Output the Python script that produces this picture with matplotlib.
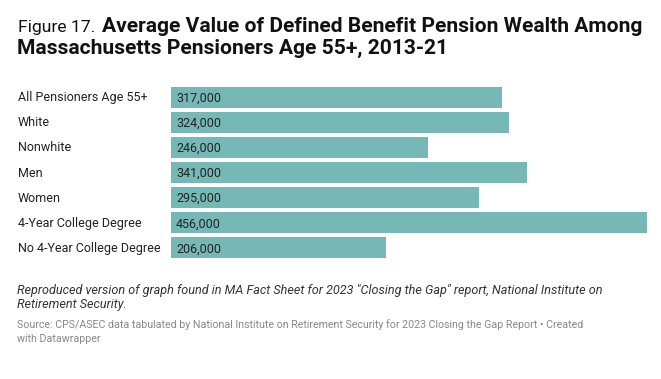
import matplotlib
matplotlib.use("Agg")
import matplotlib.pyplot as plt

categories = ["All Pensioners Age 55+", "White", "Nonwhite", "Men", "Women",
              "4-Year College Degree", "No 4-Year College Degree"]
values = [317000, 324000, 246000, 341000, 295000, 456000, 206000]

W, H = 661, 379
DPI = 100
fig = plt.figure(figsize=(W / DPI, H / DPI), dpi=DPI)
fig.patch.set_facecolor("white")

def px(x, y):
    return x / W, 1 - y / H

FONT = "Roboto"
BAR = "#75b8b5"

top, bottom = 84.5, 260.5
ax = fig.add_axes([171 / W, 1 - bottom / H, (647 - 171) / W, (bottom - top) / H])
y = list(range(len(categories)))
ax.barh(y, values, height=0.84, color=BAR)
ax.set_xlim(0, max(values))
ax.set_ylim(len(categories) - 0.5, -0.5)
ax.axis("off")
for i, (c, v) in enumerate(zip(categories, values)):
    ax.text(5 / (647 - 171) * max(values), i + 0.04, f"{v:,}", va="center", ha="left",
            fontsize=9, family=FONT, color="#222222")
    fig.text(18 / W, 1 - (97.5 + i * 25.17) / H, c, va="center", ha="left",
             fontsize=9, family=FONT, color="#222222")

r = fig.canvas.get_renderer()
t1 = fig.text(*px(18, 32), "Figure 17.", fontsize=12.6, family=FONT,
              fontweight="normal", color="#111111", va="baseline")
bb = t1.get_window_extent(renderer=r)
fig.text((bb.x1 + 7) / W, 1 - 32 / H,
         "Average Value of Defined Benefit Pension Wealth Among",
         fontsize=15.1, family=FONT, fontweight="bold", color="#111111", va="baseline")
fig.text(*px(17, 54), "Massachusetts Pensioners Age 55+, 2013-21",
         fontsize=15.1, family=FONT, fontweight="bold", color="#111111", va="baseline")

fig.text(*px(17, 294), 'Reproduced version of graph found in MA Fact Sheet for 2023 "Closing the Gap" report, National Institute on',
         fontsize=9.1, family=FONT, style="italic", color="#333333", va="baseline")
fig.text(*px(17, 308), 'Retirement Security.',
         fontsize=9.1, family=FONT, style="italic", color="#333333", va="baseline")
fig.text(*px(17, 328), 'Source: CPS/ASEC data tabulated by National Institute on Retirement Security for 2023 Closing the Gap Report \u2022 Created',
         fontsize=7.7, family=FONT, color="#888888", va="baseline")
fig.text(*px(17, 342), 'with Datawrapper',
         fontsize=7.7, family=FONT, color="#888888", va="baseline")

fig.savefig("out.png", dpi=DPI, facecolor="white")
